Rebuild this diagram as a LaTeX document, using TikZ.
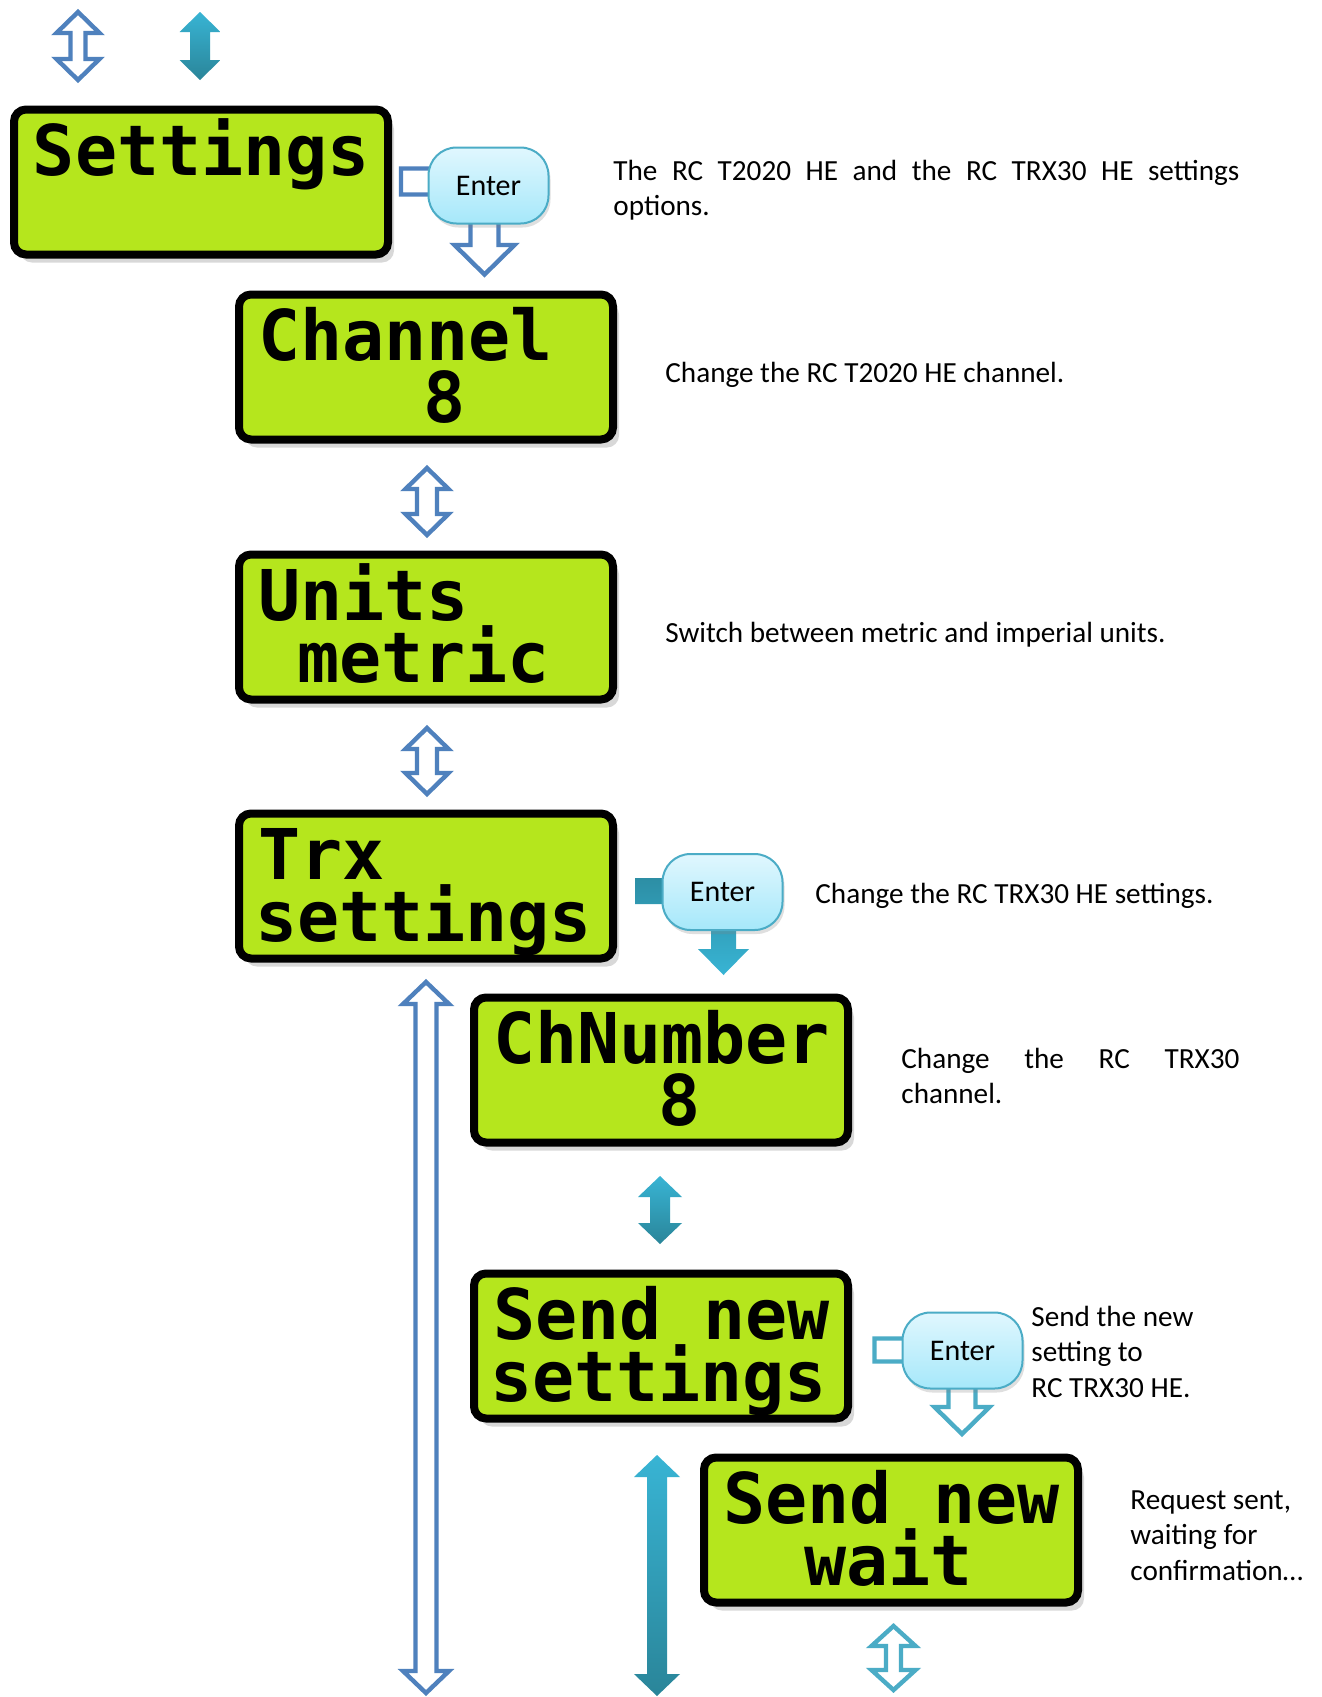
\documentclass[tikz,border=0pt]{standalone}
\usepackage{fontspec}
\setmainfont{Carlito}
\newfontfamily\lcdfont{DejaVu Sans Mono}
\usetikzlibrary{shadows}

\definecolor{lcdgreen}{HTML}{B5E61D}
\definecolor{arrowblue}{HTML}{4F81BD}
\definecolor{arrowcyan}{HTML}{4BACC6}
\definecolor{filltop}{HTML}{38B4D4}
\definecolor{fillbot}{HTML}{2A8599}
\definecolor{btntop}{HTML}{E0F7FE}
\definecolor{btnbot}{HTML}{A6E8FA}

% style, x, top tip, bottom tip, head half width, shaft half width, head length
\newcommand{\vdbl}[7]{%
  \path[#1] (#2,#3) -- ({#2+#5},{#3+#7}) -- ({#2+#6},{#3+#7}) -- ({#2+#6},{#4-#7})
    -- ({#2+#5},{#4-#7}) -- (#2,#4) -- ({#2-#5},{#4-#7}) -- ({#2-#6},{#4-#7})
    -- ({#2-#6},{#3+#7}) -- ({#2-#5},{#3+#7}) -- cycle;}
% one blank LCD cell
\newcommand{\cell}[1][0]{\phantom{#1}}

\begin{document}
\begin{tikzpicture}[x=0.5pt,y=-0.5pt,
  lcd/.style={draw=black,line width=4pt,fill=lcdgreen,rounded corners=6pt,
    minimum width=187pt,minimum height=72.5pt,text width=171pt,inner xsep=8pt,inner ysep=0pt,
    align=left,font=\lcdfont\bfseries\fontsize{35}{31}\selectfont,
    execute at begin node={\lineskiplimit=-50pt\rule{0pt}{33pt}\hspace*{1.5pt}},
    execute at end node={\rule[-8.5pt]{0pt}{8.5pt}},
    drop shadow={opacity=.3,shadow xshift=3pt,shadow yshift=-4pt}},
  enterbtn/.style={draw=arrowcyan,line width=1pt,rounded corners=14pt,top color=btntop,bottom color=btnbot,
    minimum width=60pt,minimum height=38pt,inner sep=0pt,font=\fontsize{15}{18}\selectfont,
    drop shadow={opacity=.25,shadow xshift=1pt,shadow yshift=-2pt}},
  note/.style={font=\fontsize{14.6}{17.9}\selectfont,inner sep=0pt,anchor=base west,align=left},
  openarrow/.style={draw=arrowblue,line width=2.2pt,fill=white,line join=miter},
  cyanarrow/.style={openarrow,draw=arrowcyan},
  fullarrow/.style={top color=filltop,bottom color=fillbot,draw=none}]

  \path[use as bounding box,fill=white] (0,0) rectangle (1322,1697);

  \vdbl{openarrow}{78}{12}{80}{21.5}{7.5}{21}
  \vdbl{fullarrow}{200}{12}{80}{20.5}{10}{20}

  \node[lcd] (set) at (201,182) {Settings\\};
  \node[lcd] (chan) at (426,367) {Channel\\\cell[0000]8};
  \node[lcd] (units) at (426,627) {Units\\\cell metric};
  \node[lcd] (trx) at (426,886) {Trx\\settings};
  \node[lcd] (chnum) at (661,1070) {ChNumber\\\cell[0000]8};
  \node[lcd] (send) at (661,1346) {Send\cell new\\settings};
  \node[lcd] (wait) at (891,1530) {Send\cell new\\\cell[00]wait};

  \path[openarrow] (401,168.5) -- (498.5,168.5) -- (498.5,245) -- (514.5,245) -- (484.5,274.5)
    -- (454.5,245) -- (470.5,245) -- (470.5,194.5) -- (401,194.5) -- cycle;
  \path[top color=fillbot!80!filltop,bottom color=filltop] (635,878) -- (736,878) -- (736,949)
    -- (749,949) -- (723.5,975) -- (698,949) -- (711,949) -- (711,904) -- (635,904) -- cycle;
  \path[cyanarrow] (874.5,1338.5) -- (975.5,1338.5) -- (975.5,1407) -- (989.5,1407) -- (962,1434)
    -- (934.5,1407) -- (948.5,1407) -- (948.5,1361.5) -- (874.5,1361.5) -- cycle;

  \node[enterbtn] (ent1) at (488.5,185.5) {Enter};
  \node[enterbtn] (ent2) at (722.5,892) {Enter};
  \node[enterbtn] (ent3) at (962.5,1350.5) {Enter};

  \vdbl{openarrow}{427}{468}{535}{21.5}{10}{21}
  \vdbl{openarrow}{427}{728}{794}{21.5}{10}{21}
  \vdbl{openarrow}{426}{982}{1693}{23}{10.5}{22}
  \vdbl{fullarrow}{660}{1176}{1244}{22}{10}{21}
  \vdbl{fullarrow}{657}{1455}{1696}{23}{10}{22}
  \vdbl{cyanarrow}{893.5}{1626}{1690}{22}{7.5}{20}

  \node[note,text width=313pt,align=justify] (t1) at (613,180)
    {The RC T2020 HE and the RC TRX30 HE settings\linebreak options.};
  \node[note] (t2) at (665,382) {Change the RC T2020 HE channel.};
  \node[note] (t3) at (665,642) {Switch between metric and imperial units.};
  \node[note] (t4) at (815,903) {Change the RC TRX30 HE settings.};
  \node[note,text width=169pt,align=justify] (t5) at (901,1068)
    {Change the RC TRX30\linebreak channel.};
  \node[note,text width=90pt,align=flush left] (t6) at (1031,1326) {Send the new\\setting to\\RC TRX30 HE.};
  \node[note,text width=90pt,align=flush left] (t7) at (1130,1509) {Request sent,\\waiting for\\confirmation…};
\end{tikzpicture}
\end{document}
